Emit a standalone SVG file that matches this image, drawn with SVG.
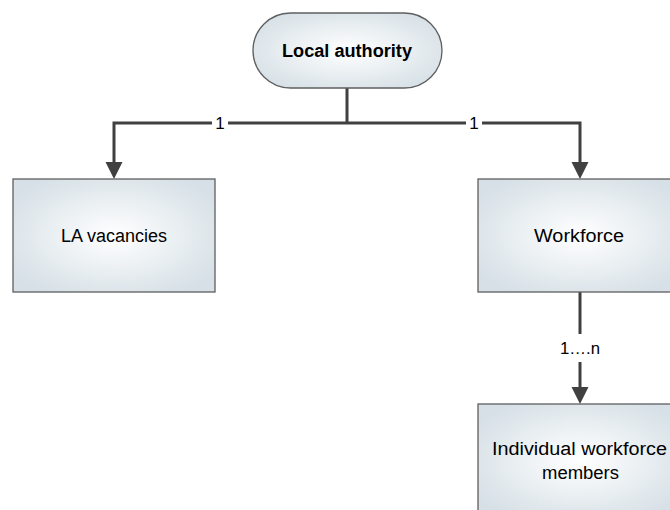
<svg xmlns="http://www.w3.org/2000/svg" width="670" height="510" viewBox="0 0 670 510">
  <style>
    .box { fill: url(#g); stroke: #5f5f5f; stroke-width: 1.3; }
    .t { font-family: "Liberation Sans", Arial, sans-serif; font-size: 18px; fill: #000; text-anchor: middle; dominant-baseline: central; }
    .b { font-weight: bold; font-size: 17.5px; }
    .c { fill: none; stroke: #404040; stroke-width: 3; }
    .lbl { font-family: "Liberation Sans", Arial, sans-serif; font-size: 17px; fill: #000; text-anchor: middle; dominant-baseline: central; }
  </style>
  <defs>
    <radialGradient id="g" cx="50%" cy="50%" r="60%">
      <stop offset="0" stop-color="#ffffff"/>
      <stop offset="1" stop-color="#d6e0e6"/>
    </radialGradient>
    <marker id="arr" markerUnits="userSpaceOnUse" markerWidth="18" markerHeight="18" viewBox="0 0 18 18" refX="8" refY="8.5" orient="auto">
      <path d="M0,0 L17,8.5 L0,17 z" fill="#404040"/>
    </marker>
  </defs>
  <rect width="670" height="510" fill="#ffffff"/>
  <g id="connectors">
    <path class="c" d="M347,88 V123"/>
    <path class="c" d="M347,123 H114 V170" marker-end="url(#arr)"/>
    <path class="c" d="M347,123 H580 V170" marker-end="url(#arr)"/>
    <path class="c" d="M580,292 V334"/>
    <path class="c" d="M580,362 V395" marker-end="url(#arr)"/>
    <rect x="212" y="114" width="16" height="18" fill="#ffffff"/>
    <text class="lbl" x="220" y="123">1</text>
    <rect x="466" y="114" width="16" height="18" fill="#ffffff"/>
    <text class="lbl" x="474" y="123">1</text>
    <text class="lbl" x="580" y="348" textLength="40" lengthAdjust="spacingAndGlyphs">1….n</text>
  </g>
  <g id="local-authority">
    <rect class="box" x="253" y="13" width="189" height="75" rx="37.5" ry="37.5"/>
    <text class="t b" x="347" y="51" textLength="130" lengthAdjust="spacingAndGlyphs">Local authority</text>
  </g>
  <g id="la-vacancies">
    <rect class="box" x="13" y="179" width="202" height="113"/>
    <text class="t" x="114" y="236" textLength="106" lengthAdjust="spacingAndGlyphs">LA vacancies</text>
  </g>
  <g id="workforce">
    <rect class="box" x="478" y="179" width="204" height="113"/>
    <text class="t" x="579" y="236" textLength="90" lengthAdjust="spacingAndGlyphs">Workforce</text>
  </g>
  <g id="individual-workforce-members">
    <rect class="box" x="478" y="404" width="204" height="113"/>
    <text class="t" x="579.5" y="449" textLength="175" lengthAdjust="spacingAndGlyphs">Individual workforce</text>
    <text class="t" x="580.5" y="473" textLength="77" lengthAdjust="spacingAndGlyphs">members</text>
  </g>
</svg>
